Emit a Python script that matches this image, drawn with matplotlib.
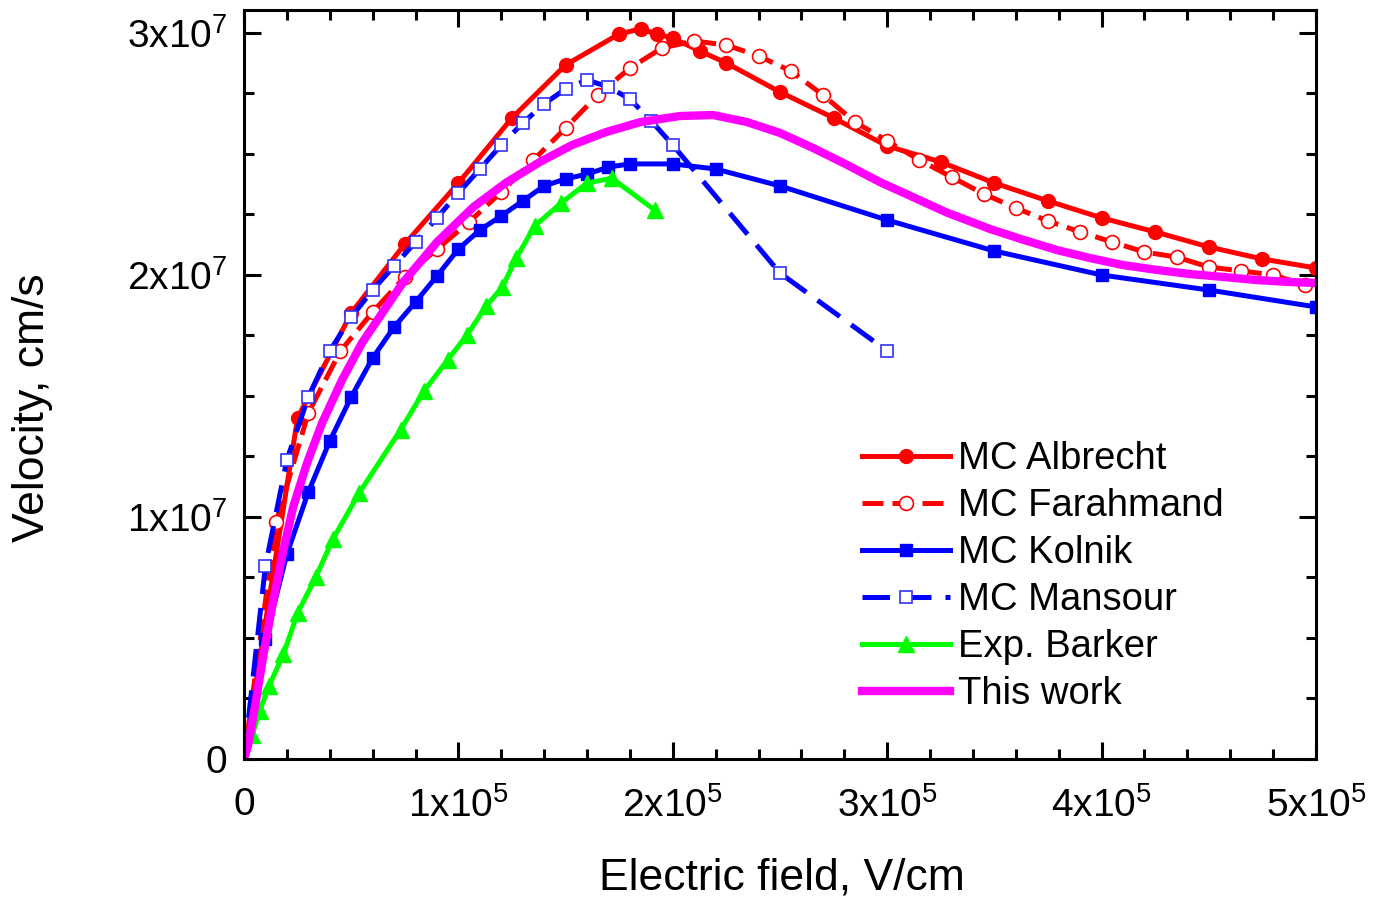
import matplotlib
matplotlib.use("Agg")
import matplotlib.pyplot as plt
from matplotlib.ticker import MultipleLocator

plt.rcParams['font.family'] = ['Liberation Sans', 'DejaVu Sans']
plt.rcParams['mathtext.default'] = 'regular'

# electric field in units of 1e5 V/cm, velocity in units of 1e7 cm/s
albrecht_x = [0, 0.25, 0.5, 0.75, 1.0, 1.25, 1.5, 1.75, 1.85, 1.925, 2.0, 2.125, 2.25, 2.5,
              2.75, 3.0, 3.25, 3.5, 3.75, 4.0, 4.25, 4.5, 4.75, 5.0]
albrecht_v = [0, 1.41, 1.843, 2.128, 2.38, 2.649, 2.868, 2.996, 3.017, 2.996, 2.979, 2.926, 2.876, 2.756,
              2.649, 2.533, 2.467, 2.38, 2.306, 2.236, 2.178, 2.116, 2.066, 2.029]

farahmand_x = [0, 0.15, 0.3, 0.45, 0.6, 0.75, 0.9, 1.05, 1.2, 1.35, 1.5, 1.65, 1.8, 1.95, 2.1, 2.25,
               2.4, 2.55, 2.7, 2.85, 3.0, 3.15, 3.3, 3.45, 3.6, 3.75, 3.9, 4.05, 4.2, 4.35, 4.5,
               4.65, 4.8, 4.95]
farahmand_v = [0, 0.979, 1.43, 1.686, 1.847, 1.992, 2.107, 2.219, 2.343, 2.475, 2.607, 2.744, 2.855,
               2.938, 2.967, 2.95, 2.905, 2.843, 2.744, 2.632, 2.554, 2.475, 2.405, 2.335, 2.277,
               2.223, 2.178, 2.136, 2.095, 2.074, 2.033, 2.017, 2.0, 1.959]

kolnik_x = [0, 0.1, 0.2, 0.3, 0.4, 0.5, 0.6, 0.7, 0.8, 0.9, 1.0, 1.1, 1.2, 1.3, 1.4, 1.5, 1.6, 1.7,
            1.8, 2.0, 2.2, 2.5, 3.0, 3.5, 4.0, 4.5, 5.0]
kolnik_v = [0, 0.496, 0.847, 1.103, 1.314, 1.496, 1.657, 1.785, 1.888, 1.996, 2.107, 2.186, 2.244,
            2.306, 2.368, 2.397, 2.417, 2.446, 2.459, 2.459, 2.438, 2.368, 2.227, 2.099, 2.0,
            1.938, 1.868]

mansour_x = [0, 0.1, 0.2, 0.3, 0.4, 0.5, 0.6, 0.7, 0.8, 0.9, 1.0, 1.1, 1.2, 1.3, 1.4, 1.5, 1.6,
             1.7, 1.8, 1.9, 2.0, 2.5, 3.0]
mansour_v = [0, 0.798, 1.236, 1.496, 1.686, 1.826, 1.938, 2.037, 2.136, 2.236, 2.339, 2.438, 2.537,
             2.628, 2.707, 2.769, 2.806, 2.777, 2.727, 2.636, 2.537, 2.008, 1.686]

barker_x = [0, 0.038, 0.073, 0.117, 0.184, 0.25, 0.335, 0.415, 0.537, 0.73, 0.84, 0.95, 1.04,
            1.13, 1.205, 1.27, 1.355, 1.48, 1.6, 1.715, 1.915]
barker_v = [0, 0.099, 0.198, 0.302, 0.434, 0.603, 0.752, 0.909, 1.099, 1.36, 1.521, 1.649, 1.752,
            1.872, 1.95, 2.07, 2.202, 2.298, 2.38, 2.4, 2.269]

work_x = [0, 0.02, 0.051, 0.089, 0.131, 0.177, 0.229, 0.294, 0.364, 0.457, 0.55, 0.74, 0.9, 1.07,
          1.22, 1.38, 1.53, 1.69, 1.85, 2.034, 2.188, 2.346, 2.5, 2.654, 2.813, 2.966, 3.12,
          3.278, 3.48, 3.633, 3.792, 3.946, 4.1, 4.258, 4.412, 4.566, 4.725, 4.879, 5.0]
work_v = [0, 0.06, 0.215, 0.421, 0.628, 0.835, 1.041, 1.223, 1.388, 1.566, 1.719, 1.967, 2.136,
          2.281, 2.38, 2.467, 2.537, 2.591, 2.632, 2.657, 2.661, 2.632, 2.587, 2.525, 2.455,
          2.384, 2.322, 2.258, 2.19, 2.146, 2.103, 2.07, 2.041, 2.021, 2.004, 1.992, 1.979,
          1.971, 1.967]

x_ticks = [0, 1, 2, 3, 4, 5]
x_labels = ['0', '$1x10^{5}$', '$2x10^{5}$', '$3x10^{5}$', '$4x10^{5}$', '$5x10^{5}$']
y_ticks = [0, 1, 2, 3]
y_labels = ['0', '$1x10^{7}$', '$2x10^{7}$', '$3x10^{7}$']


def sc(vals, f):
    return [v * f for v in vals]


fig = plt.figure(figsize=(13.74, 8.98), dpi=100)
ax = fig.add_axes([244 / 1374, 1 - 759 / 898, (1316 - 244) / 1374, (759 - 10) / 898])

lw = 3.6
skip0 = lambda n: list(range(1, n))

ax.plot(sc(albrecht_x, 1e5), sc(albrecht_v, 1e7), '-', color='#ff0000', lw=lw,
        marker='o', ms=10, mfc='#ff0000', mec='#ff0000', markevery=skip0(len(albrecht_x)),
        label='MC Albrecht')
ax.plot(sc(farahmand_x, 1e5), sc(farahmand_v, 1e7), color='#ff0000', lw=lw, dashes=(4.2, 1.8),
        marker='o', ms=10, mfc='white', mec='#ff0000', mew=1.2, markevery=skip0(len(farahmand_x)),
        label='MC Farahmand')
ax.plot(sc(kolnik_x, 1e5), sc(kolnik_v, 1e7), '-', color='#0000ff', lw=lw,
        marker='s', ms=8.5, mfc='#0000ff', mec='#0000ff', markevery=skip0(len(kolnik_x)),
        label='MC Kolnik')
ax.plot(sc(mansour_x, 1e5), sc(mansour_v, 1e7), color='#0000ff', lw=lw, dashes=(5.5, 2.8),
        marker='s', ms=8.5, mfc='white', mec='#3030ff', mew=1.2, markevery=skip0(len(mansour_x)),
        label='MC Mansour')
ax.plot(sc(barker_x, 1e5), sc(barker_v, 1e7), '-', color='#00ff00', lw=lw,
        marker='^', ms=11, mfc='#00ff00', mec='#00ff00', markevery=skip0(len(barker_x)),
        label='Exp. Barker')
ax.plot(sc(work_x, 1e5), sc(work_v, 1e7), '-', color='#ff00ff', lw=6, label='This work')

ax.set_xlim(0, 5e5)
ax.set_ylim(0, 3.095e7)
ax.set_xticks(sc(x_ticks, 1e5))
ax.set_xticklabels(x_labels)
ax.set_yticks(sc(y_ticks, 1e7))
ax.set_yticklabels(y_labels)
ax.xaxis.set_minor_locator(MultipleLocator(2e4))
ax.yaxis.set_minor_locator(MultipleLocator(2.5e6))
ax.tick_params(which='both', direction='in', top=True, right=True, width=2.2, labelsize=28)
ax.tick_params(which='major', length=12)
ax.tick_params(which='minor', length=7)
ax.tick_params(axis='x', which='major', pad=20)
ax.tick_params(axis='y', which='major', pad=12)
for s in ax.spines.values():
    s.set_linewidth(2.2)

fig.text(782 / 1374, 1 - 878 / 898, 'Electric field, V/cm', fontsize=32, ha='center', va='center')
fig.text(33 / 1374, 1 - 408 / 898, 'Velocity, cm/s', fontsize=32, ha='center', va='center',
         rotation=90)

ax.legend(loc='upper left', bbox_to_anchor=((862 - 244) / 1072, (759 - 441) / 749),
          frameon=False, fontsize=27.5, borderpad=0, borderaxespad=0, handlelength=2.3,
          handletextpad=0.22, labelspacing=0.29)

fig.savefig('out.png', dpi=100)
